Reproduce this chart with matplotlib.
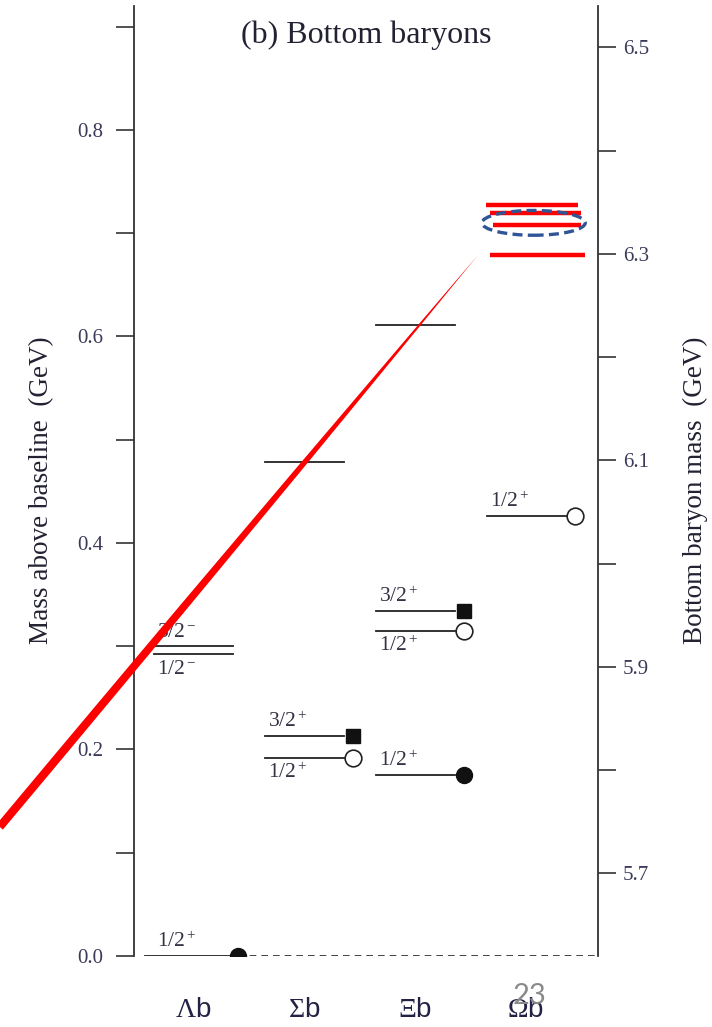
import numpy as np
import matplotlib.pyplot as plt
from matplotlib.patches import Ellipse

plt.rcParams['font.family'] = ['Liberation Serif', 'DejaVu Serif']
plt.rcParams['mathtext.fontset'] = 'custom'
plt.rcParams['mathtext.rm'] = 'Liberation Serif'
plt.rcParams['mathtext.it'] = 'Liberation Serif:italic'
plt.rcParams['mathtext.sf'] = 'Liberation Sans'

species = [r'$\Lambda\mathsf{b}$', r'$\Sigma\mathsf{b}$', r'$\Xi\mathsf{b}$', r'$\Omega\mathsf{b}$']
baseline = 5.62  # GeV, Lambda_b ground state

# measured levels (mass above baseline, GeV)
lev_species = [0, 0, 0, 1, 1, 1, 2, 2, 2, 2, 3]
lev_mass = [0.0, 0.300, 0.2925, 0.478, 0.213, 0.192, 0.611, 0.334, 0.315, 0.175, 0.426]
lev_label = ['1/2$^+$', '3/2$^-$', '1/2$^-$', '', '3/2$^+$', '1/2$^+$', '', '3/2$^+$', '1/2$^+$', '1/2$^+$', '1/2$^+$']
lev_label_above = [True, True, False, True, True, False, True, True, False, True, True]
lev_marker = ['dot', '', '', '', 'square', 'ring', '', 'square', 'ring', 'dot', 'ring']

# predicted Omega_b candidates (red) marked on top of the figure
omega_pred = [0.727, 0.720, 0.708, 0.679]
omega_pred_x0 = [-0.36, -0.32, -0.30, -0.32]
omega_pred_x1 = [0.47, 0.50, 0.50, 0.53]

fig = plt.figure(figsize=(7.12, 10.27), dpi=100)
ax = fig.add_axes([134/712, 1-956/1027, 464/712, 950/1027])
ax.set_xlim(-0.53, 3.65)
ax.set_ylim(0, 0.92)

ink = '#222222'
for s, m, lab, above, mk in zip(lev_species, lev_mass, lev_label, lev_label_above, lev_marker):
    if s == 0 and m == 0.0:
        x0, x1, xm = s - 0.43, s + 0.41, s + 0.41
    else:
        x0, x1, xm = s - 0.35, s + 0.36, s + 0.44
    ax.plot([x0, x1], [m, m], color=ink, lw=1.3, zorder=2)
    if mk == 'dot':
        ax.plot(xm, m, 'o', ms=11.5, color='#111111', zorder=3)
    elif mk == 'ring':
        ax.plot(xm, m, 'o', ms=12, mfc='white', mec='#222222', mew=1.2, zorder=3)
    elif mk == 'square':
        ax.plot(xm, m, 's', ms=10, color='#111111', zorder=3)
    if lab:
        ax.annotate(lab, (s - 0.32, m), xytext=(0, 3 if above else -4),
                    textcoords='offset points', va='bottom' if above else 'top',
                    fontsize=15.5, color='#333344')

# baseline dashed line
ax.plot([0.41, 3.65], [0, 0], color=ink, lw=1.2, ls=(0, (4, 3)), zorder=1)

# red predictions for Omega_b
for m, a, b in zip(omega_pred, omega_pred_x0, omega_pred_x1):
    ax.plot([3 + a, 3 + b], [m, m], color='#ff0000', lw=3.2, solid_capstyle='butt', zorder=4)
ax.add_patch(Ellipse((3.07, 0.710), 0.93, 0.024, fill=False, ec='#2f5597',
                     lw=2.4, ls=(0, (3, 1.6)), zorder=5))
ax.annotate('', xy=(2.57, 0.679), xytext=(-1.74, 0.125), annotation_clip=False,
            arrowprops=dict(arrowstyle='wedge,tail_width=0.6,shrink_factor=0.8',
                            color='#ff0000', lw=0, shrinkA=0, shrinkB=0, clip_on=False),
            zorder=6)

# axes styling
for sp in ['top', 'bottom', 'right']:
    ax.spines[sp].set_visible(False)
ax.spines['left'].set_color('#333333')
ax.spines['left'].set_linewidth(1.3)
ax.set_yticks([0.0, 0.2, 0.4, 0.6, 0.8])
ax.set_yticks([0.1, 0.3, 0.5, 0.7, 0.9], minor=True)
ax.yaxis.set_major_formatter(plt.FormatStrFormatter('%.1f'))
ax.tick_params(axis='y', which='both', direction='out', length=13, width=1.2,
               color='#333333', labelsize=15, labelcolor='#3a3a5a', pad=9)
ax.set_xticks(range(4))
ax.set_xticklabels(species, fontsize=20, color='#222244')
ax.tick_params(axis='x', length=0, pad=30)

ax2 = ax.twinx()
ax2.set_ylim(baseline, baseline + 0.92)
for sp in ['top', 'bottom', 'left']:
    ax2.spines[sp].set_visible(False)
ax2.spines['right'].set_color('#333333')
ax2.spines['right'].set_linewidth(1.3)
ax2.set_yticks([5.7, 5.9, 6.1, 6.3, 6.5])
ax2.set_yticks([5.8, 6.0, 6.2, 6.4], minor=True)
ax2.yaxis.set_major_formatter(plt.FormatStrFormatter('%.1f'))
ax2.tick_params(axis='y', which='both', direction='out', length=13, width=1.2,
                color='#333333', labelsize=15, labelcolor='#3a3a5a', pad=5)

ax.text(0.5, 0.985, '(b) Bottom baryons', transform=ax.transAxes, ha='center', va='top',
        fontsize=23, color='#222233')
fig.text(42/712, 1-490/1027, 'Mass above baseline  (GeV)', rotation=90, ha='center', va='center',
         fontsize=19.5, color='#222233')
fig.text(695/712, 1-490/1027, 'Bottom baryon mass  (GeV)', rotation=90, ha='center', va='center',
         fontsize=19.5, color='#222233')
fig.text(529/712, 1-996/1027, '23', ha='center', va='center', fontsize=21,
         color='#8a8a8a', family=['Lato', 'DejaVu Sans'])

fig.savefig('out.png', dpi=100)
